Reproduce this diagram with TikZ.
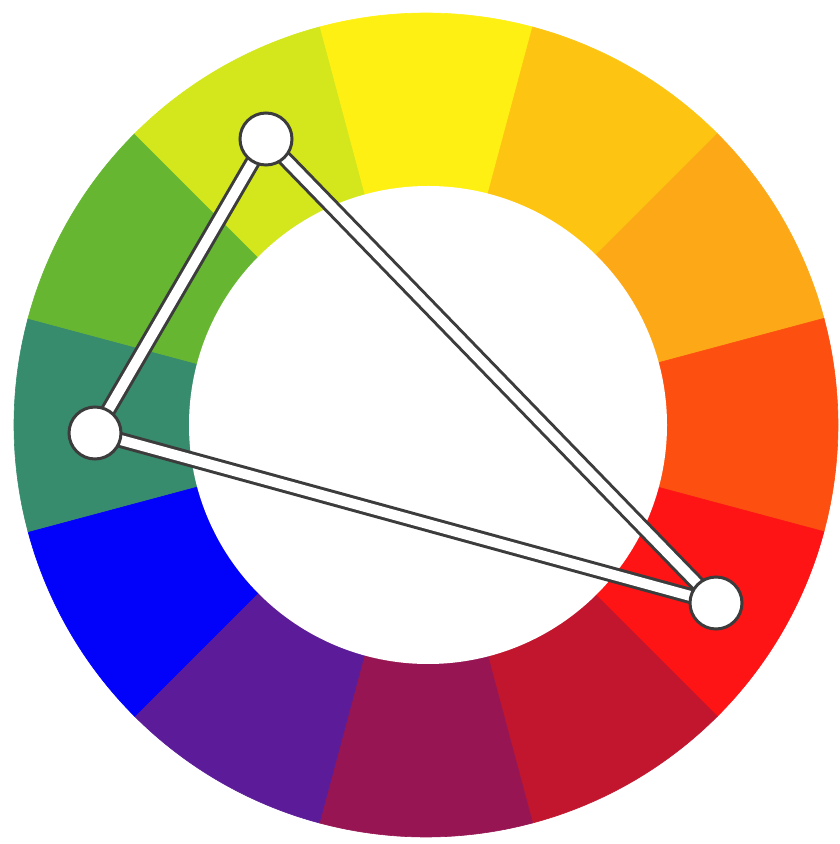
\documentclass[tikz,border=0pt]{standalone}
\usepackage{tikz}
\usepackage{xcolor}
\usetikzlibrary{backgrounds}
\definecolor{HueY}{HTML}{FFF014}
\definecolor{HueYO}{HTML}{FDC511}
\definecolor{HueO}{HTML}{FCA817}
\definecolor{HueRO}{HTML}{FD5010}
\definecolor{HueR}{HTML}{FE1414}
\definecolor{HueRV}{HTML}{C2162E}
\definecolor{HueM}{HTML}{961552}
\definecolor{HueV}{HTML}{5C1B98}
\definecolor{HueB}{HTML}{0202FA}
\definecolor{HueT}{HTML}{388C6E}
\definecolor{HueG}{HTML}{66B632}
\definecolor{HueYG}{HTML}{D3E71C}
\definecolor{LinkInk}{HTML}{3C3C3C}
\pgfdeclarelayer{links}
\pgfsetlayers{background,links,main}

\begin{document}
\begin{tikzpicture}[
    x=1pt, y=1pt,
    wedge/.style={line width=0.6pt},
    pick/.style={
      circle,
      draw=LinkInk,
      fill=white,
      line width=3pt,
      minimum size=52pt,
      inner sep=0pt,
    },
    link/.style={
      draw=LinkInk,
      line width=3pt,
      double=white,
      double distance=10pt,
    },
  ]
    \useasboundingbox (0,0) rectangle (839,844);
    \begin{scope}[on background layer, shift={(426,419)}]
      % twelve hues, clockwise from the top
      \fill[HueY,  wedge, draw=HueY]  (0,0) -- (75:412)  arc (75:105:412)   -- cycle;
      \fill[HueYO, wedge, draw=HueYO] (0,0) -- (45:412)  arc (45:75:412)    -- cycle;
      \fill[HueO,  wedge, draw=HueO]  (0,0) -- (15:412)  arc (15:45:412)    -- cycle;
      \fill[HueRO, wedge, draw=HueRO] (0,0) -- (-15:412) arc (-15:15:412)   -- cycle;
      \fill[HueR,  wedge, draw=HueR]  (0,0) -- (-45:412) arc (-45:-15:412)  -- cycle;
      \fill[HueRV, wedge, draw=HueRV] (0,0) -- (-75:412) arc (-75:-45:412)  -- cycle;
      \fill[HueM,  wedge, draw=HueM]  (0,0) -- (-105:412) arc (-105:-75:412) -- cycle;
      \fill[HueV,  wedge, draw=HueV]  (0,0) -- (-135:412) arc (-135:-105:412) -- cycle;
      \fill[HueB,  wedge, draw=HueB]  (0,0) -- (-165:412) arc (-165:-135:412) -- cycle;
      \fill[HueT,  wedge, draw=HueT]  (0,0) -- (165:412) arc (165:195:412)  -- cycle;
      \fill[HueG,  wedge, draw=HueG]  (0,0) -- (135:412) arc (135:165:412)  -- cycle;
      \fill[HueYG, wedge, draw=HueYG] (0,0) -- (105:412) arc (105:135:412)  -- cycle;
      \fill[white] (2,0) circle (239);
    \end{scope}

    \node[pick] (yg) at (266,705) {};
    \node[pick] (teal) at (95,411) {};
    \node[pick] (red) at (716,241) {};

    \begin{pgfonlayer}{links}
      \draw[link] (yg.center) -- (teal.center);
      \draw[link] (teal.center) -- (red.center);
      \draw[link] (red.center) -- (yg.center);
    \end{pgfonlayer}
  \end{tikzpicture}
\end{document}
